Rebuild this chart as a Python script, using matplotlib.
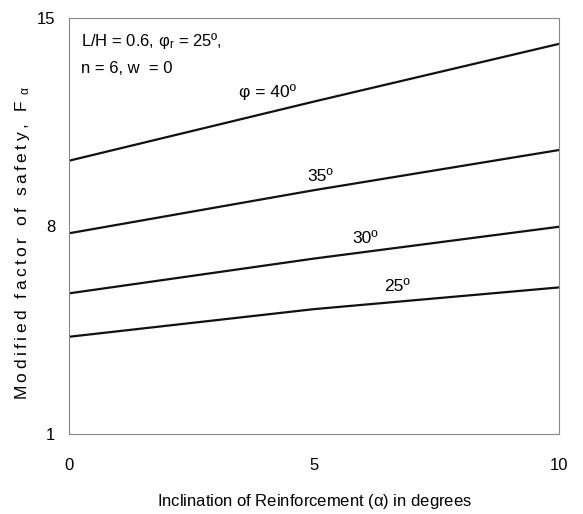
import matplotlib
matplotlib.use('Agg')
import matplotlib.pyplot as plt
from matplotlib import font_manager

# Modified factor of safety vs reinforcement inclination, for several friction angles
alpha = [0, 5, 10]
fs_phi40 = [10.19, 12.18, 14.12]
fs_phi35 = [7.75, 9.20, 10.55]
fs_phi30 = [5.73, 6.90, 7.97]
fs_phi25 = [4.27, 5.20, 5.93]

curve_labels = ['φ = 40º', '35º', '30º', '25º']
label_pos = [(4.04, 12.5), (5.12, 9.65), (6.04, 7.58), (6.69, 5.95)]

xticks = [0, 5, 10]
yticks = [1, 8, 15]

names = {f.name for f in font_manager.fontManager.ttflist}
narrow = 'Liberation Sans Narrow' if 'Liberation Sans Narrow' in names else 'Liberation Sans'
plt.rcParams['font.family'] = [narrow, 'DejaVu Sans']
plt.rcParams['mathtext.fontset'] = 'custom'
plt.rcParams['mathtext.rm'] = narrow
plt.rcParams['mathtext.it'] = narrow

fig = plt.figure(figsize=(5.83, 5.14), dpi=100)
ax = fig.add_axes([0.1184, 0.1556, 0.8406, 0.81])

for ys in [fs_phi40, fs_phi35, fs_phi30, fs_phi25]:
    ax.plot(alpha, ys, color='#111111', lw=1.6)

for txt, (x, y) in zip(curve_labels, label_pos):
    ax.text(x, y, txt, ha='center', va='center', fontsize=12.5)

ax.text(0.25, 14.2, 'L/H = 0.6, φ$_r$ = 25º,', ha='left', va='center', fontsize=12)
ax.text(0.25, 13.3, 'n = 6, w  = 0', ha='left', va='center', fontsize=12)

ax.set_xlim(0, 10)
ax.set_ylim(1, 15)
ax.set_xticks(xticks)
ax.set_yticks(yticks)
ax.tick_params(axis='x', length=0, pad=17, labelsize=12)
ax.tick_params(axis='y', length=0, pad=10, labelsize=12)
for s in ax.spines.values():
    s.set_color('#888888')
    s.set_linestyle((0, (2, 1)))
    s.set_linewidth(0.8)

ax.set_xlabel('Inclination of Reinforcement ($\\alpha$) in degrees', fontsize=12, labelpad=14)

# letter-spaced y label
ylab = '\u2009'.join('Modified factor of safety, F')
ax.set_ylabel(ylab + '\u2009\u2009$_{\\alpha}$', fontsize=12.5,
              family=['Liberation Sans', 'DejaVu Sans'])
ax.yaxis.set_label_coords(-0.076, 0.46)

fig.savefig('out.png', dpi=100)
